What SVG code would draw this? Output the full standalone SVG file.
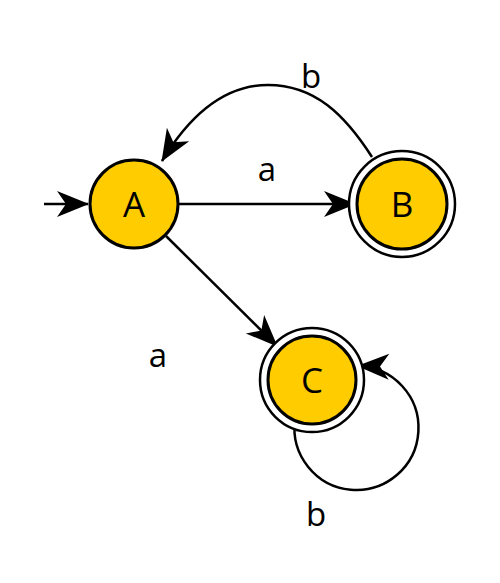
<svg xmlns="http://www.w3.org/2000/svg" width="500" height="583" viewBox="0 0 500 583">
  <style>
    .state { fill: #ffcc00; stroke: #000; stroke-width: 3; }
    .ring { fill: #fff; stroke: #000; stroke-width: 2.5; }
    .edge { fill: none; stroke: #000; stroke-width: 2.5; marker-end: url(#arrow); }
    .lbl { font-family: "Open Sans", "DejaVu Sans", sans-serif; font-size: 33px; fill: #000; text-anchor: middle; }
    .name { font-family: "Open Sans", "DejaVu Sans", sans-serif; font-size: 35px; fill: #000; text-anchor: middle; }
  </style>
  <defs>
    <marker id="arrow" markerUnits="userSpaceOnUse" markerWidth="34" markerHeight="30" viewBox="-32 -15 34 30" refX="0" refY="0" orient="auto">
      <path d="M1,0 L-31,-13 L-22,0 L-31,13 z" fill="#000"/>
    </marker>
  </defs>

  <rect width="500" height="583" fill="#fff"/>

  <g id="connectors">
    <path class="edge" d="M44,204 L88,204"/>
    <path class="edge" d="M178,204 L355,204"/>
    <path class="edge" d="M166,236 L277,346"/>
    <path class="edge" d="M372,157 C345,115 315,85 268,85 C222,85 188,118 162,161"/>
    <path class="edge" d="M295,420 A62,62 0 1 0 358,366"/>
  </g>

  <g id="A">
    <circle class="state" cx="134" cy="204" r="44"/>
    <text class="name" x="134" y="217">A</text>
  </g>
  <g id="B">
    <circle class="ring" cx="402" cy="204" r="53"/>
    <circle class="state" cx="402" cy="204" r="45"/>
    <text class="name" x="402" y="217">B</text>
  </g>
  <g id="C">
    <circle class="ring" cx="312" cy="380" r="52"/>
    <circle class="state" cx="312" cy="380" r="44"/>
    <text class="name" x="312" y="393">C</text>
  </g>

  <g id="labels">
    <text class="lbl" x="311" y="88">b</text>
    <text class="lbl" x="267" y="181">a</text>
    <text class="lbl" x="158" y="367">a</text>
    <text class="lbl" x="316" y="526">b</text>
  </g>
</svg>
